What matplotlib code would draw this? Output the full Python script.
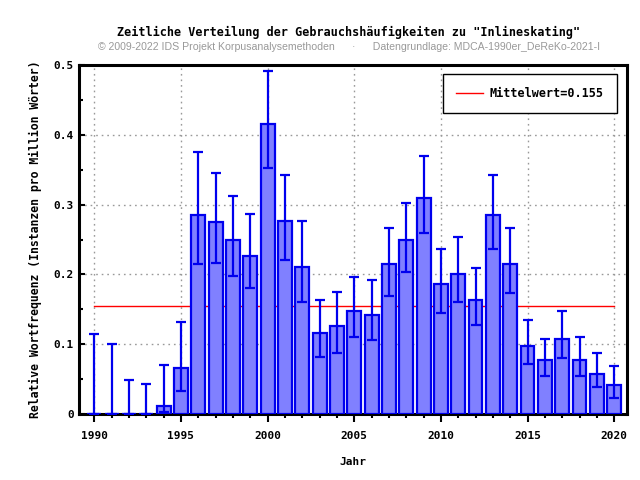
import matplotlib
matplotlib.use("Agg")
import matplotlib.pyplot as plt
from matplotlib.ticker import MultipleLocator

# Jahre und relative Frequenzen
years = list(range(1990, 2021))
freq = [0, 0, 0, 0, 0.012, 0.066, 0.285, 0.275, 0.249, 0.227,
        0.416, 0.276, 0.211, 0.116, 0.126, 0.147, 0.142, 0.215, 0.249, 0.309,
        0.186, 0.201, 0.164, 0.285, 0.215, 0.098, 0.077, 0.108, 0.077, 0.058,
        0.041]
err_low = [0, 0, 0, 0, 0.003, 0.033, 0.215, 0.217, 0.198, 0.181,
           0.352, 0.221, 0.160, 0.081, 0.088, 0.111, 0.106, 0.169, 0.203, 0.259,
           0.144, 0.161, 0.128, 0.237, 0.174, 0.072, 0.055, 0.080, 0.055, 0.038,
           0.023]
err_high = [0.115, 0.100, 0.048, 0.043, 0.070, 0.132, 0.376, 0.346, 0.313, 0.286,
            0.492, 0.343, 0.277, 0.164, 0.175, 0.197, 0.192, 0.266, 0.303, 0.369,
            0.237, 0.254, 0.209, 0.343, 0.267, 0.135, 0.107, 0.148, 0.110, 0.088,
            0.069]
mean_value = 0.155
ytick_vals = [0, 0.1, 0.2, 0.3, 0.4, 0.5]
ytick_labels = ["0", "0.1", "0.2", "0.3", "0.4", "0.5"]

mono = "DejaVu Sans Mono"

fig = plt.figure(figsize=(6.4, 4.8), dpi=100)
ax = fig.add_axes([0.123, 0.1375, 0.857, 0.727])

yerr = [[f - lo for f, lo in zip(freq, err_low)],
        [hi - f for f, hi in zip(freq, err_high)]]
ax.bar(years, freq, width=0.8, color="#8080ff", edgecolor="#0000ee",
       linewidth=1.6, zorder=3)
ax.errorbar(years, freq, yerr=yerr, fmt="none", ecolor="#0000ee",
            elinewidth=1.6, capsize=3.5, capthick=1.6, zorder=4)
ax.plot([years[0], years[-1]], [mean_value, mean_value], color="red",
        linewidth=1, zorder=2, label="Mittelwert=%.3f" % mean_value)

ax.set_xlim(1989.1, 2020.75)
ax.set_ylim(0, 0.5)
ax.xaxis.set_major_locator(MultipleLocator(5))
ax.xaxis.set_minor_locator(MultipleLocator(1))
ax.set_yticks(ytick_vals)
ax.set_yticklabels(ytick_labels)
ax.yaxis.set_minor_locator(MultipleLocator(0.05))
ax.tick_params(axis="x", which="major", direction="out", length=6, width=1.5, pad=6)
ax.tick_params(axis="x", which="minor", direction="out", length=3, width=1.5)
ax.tick_params(axis="y", which="major", direction="in", length=4, width=1.5)
ax.tick_params(axis="y", which="minor", direction="in", length=3, width=1.5)
for lab in ax.get_xticklabels() + ax.get_yticklabels():
    lab.set_family(mono)
    lab.set_weight("bold")
    lab.set_fontsize(8)

ax.grid(True, which="major", color="#999999", linestyle=(0, (1.2, 2.8)),
        linewidth=1, zorder=0)
for s in ax.spines.values():
    s.set_linewidth(2.2)

ax.set_xlabel("Jahr", family=mono, fontweight="bold", fontsize=8, labelpad=12)
ax.set_ylabel("Relative Wortfrequenz (Instanzen pro Million Wörter)",
              family=mono, fontweight="bold", fontsize=8.3, labelpad=8)

leg = ax.legend(loc="upper right", prop={"family": mono, "weight": "bold", "size": 8.5},
                fancybox=False, framealpha=1, edgecolor="black",
                borderpad=1.1, handlelength=2.3, handletextpad=0.6,
                bbox_to_anchor=(0.992, 0.99))
leg.get_frame().set_linewidth(1)

fig.text(0.545, 0.925, 'Zeitliche Verteilung der Gebrauchshäufigkeiten zu "Inlineskating"',
         ha="center", family=mono, fontweight="bold", fontsize=8.5)
fig.text(0.545, 0.895,
         "© 2009-2022 IDS Projekt Korpusanalysemethoden      ·      Datengrundlage: MDCA-1990er_DeReKo-2021-I",
         ha="center", color="#999999", family="Liberation Sans", fontsize=7.6)

fig.savefig("out.png", dpi=100)
